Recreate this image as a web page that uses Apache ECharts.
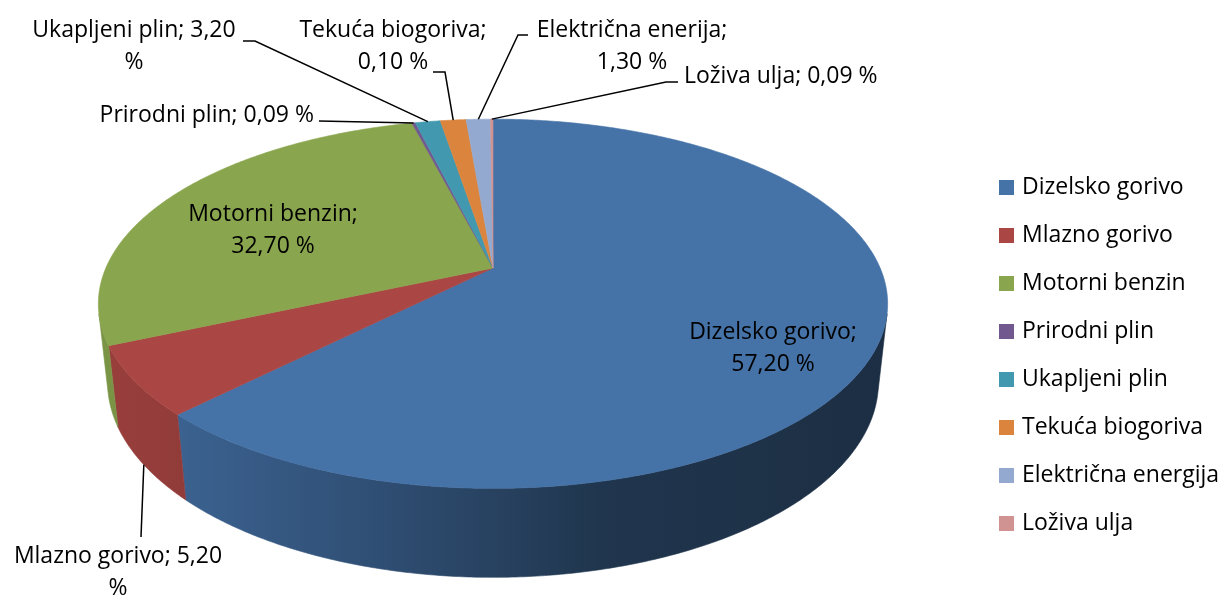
<!DOCTYPE html>
<html>
<head>
<meta charset="utf-8">
<script src="https://cdn.jsdelivr.net/npm/echarts@6/dist/echarts.min.js"></script>
<style>
  html, body { margin: 0; padding: 0; background: #fff; }
  #main { width: 1222px; height: 597px; }
</style>
</head>
<body>
<div id="main"></div>
<script>
// kategorije (redoslijed isječaka, u smjeru kazaljke od vrha)
const categories = ['Dizelsko gorivo', 'Mlazno gorivo', 'Motorni benzin', 'Prirodni plin', 'Ukapljeni plin', 'Tekuća biogoriva', 'Električna energija', 'Loživa ulja']
// veličina isječaka kako su nacrtani na slici (%)
const sliceValues = [62.4, 6.0, 27.6, 0.17, 1.24, 1.27, 1.2, 0.12]
// tekst oznaka kako je ispisan na grafikonu
const labelNames = ['Dizelsko gorivo', 'Mlazno gorivo', 'Motorni benzin', 'Prirodni plin', 'Ukapljeni plin', 'Tekuća biogoriva', 'Električna enerija', 'Loživa ulja']
const labelValues = ['57,20', '5,20', '32,70', '0,09', '3,20', '0,10', '1,30', '0,09']

const palette = ['#4572A7', '#AA4643', '#89A54E', '#71588F', '#4198AF', '#DB843D', '#93A9CF', '#D19392']
const FONT = '"Open Sans", Lato, sans-serif'
const FONT_SIZE = 23

// perspektivni prikaz kruga (3D pita)
const view = { cx: 493, cy: 268, f: 1776, R: 0.218, H: 0.05, sinA: 0.459, cosA: 0.888 }
const deg = Math.PI / 180
const wallFrom = Math.acos(-view.R / view.cosA) // vidljivi dio plašta
const wallTo = 2 * Math.PI - wallFrom

function project (theta, y) {
  let X = view.R * Math.sin(theta)
  let Z = view.R * Math.cos(theta)
  let depth = 1 - y * view.sinA + Z * view.cosA
  let up = y * view.cosA + Z * view.sinA
  return [view.cx + view.f * X / depth, view.cy - view.f * up / depth]
}

function arc (a0, a1, y) {
  let pts = []
  let n = Math.max(2, Math.ceil((a1 - a0) / (0.5 * deg)))
  for (let i = 0; i <= n; i++) pts.push(project(a0 + (a1 - a0) * i / n, y))
  return pts
}

function shade (hex, k) {
  let n = parseInt(hex.slice(1), 16)
  let r = Math.round(((n >> 16) & 255) * k)
  let g = Math.round(((n >> 8) & 255) * k)
  let b = Math.round((n & 255) * k)
  return 'rgb(' + r + ',' + g + ',' + b + ')'
}

// položaj oznaka i lomne točke linija
const labelLayout = [
  { x: 773, y: 348, align: 'center' },
  { x: 118, y: 572, align: 'center', at: 'bottom', leader: [[141, 537]] },
  { x: 273, y: 230, align: 'center' },
  { x: 314, y: 115, align: 'right', leader: [[319, 121]] },
  { x: 134, y: 46, align: 'center', leader: [[243, 41], [255, 41]] },
  { x: 393, y: 46, align: 'center', leader: [[433, 72], [445, 72]] },
  { x: 632, y: 46, align: 'center', leader: [[528, 35], [518, 35]] },
  { x: 684, y: 76, align: 'left', leader: [[678, 82], [666, 82]] }
]
const labelLines = [
  (i) => labelNames[i] + ';\n' + labelValues[i] + ' %',
  (i) => labelNames[i] + '; ' + labelValues[i] + '\n%',
  (i) => labelNames[i] + ';\n' + labelValues[i] + ' %',
  (i) => labelNames[i] + '; ' + labelValues[i] + ' %',
  (i) => labelNames[i] + '; ' + labelValues[i] + '\n%',
  (i) => labelNames[i] + ';\n' + labelValues[i] + ' %',
  (i) => labelNames[i] + ';\n' + labelValues[i] + ' %',
  (i) => labelNames[i] + '; ' + labelValues[i] + ' %'
]

const total = sliceValues.reduce((a, b) => a + b, 0)

function renderSlice (params, api) {
  let i = params.seriesIndex
  let before = 0
  for (let k = 0; k < i; k++) before += sliceValues[k]
  let a0 = before / total * 2 * Math.PI
  let a1 = (before + api.value(0)) / total * 2 * Math.PI
  let color = palette[i]
  let children = []

  // plašt
  let w0 = Math.max(a0, wallFrom)
  let w1 = Math.min(a1, wallTo)
  if (w1 > w0) {
    let top = arc(w0, w1, 0)
    let bottom = arc(w0, w1, -view.H).reverse()
    let fill = new echarts.graphic.LinearGradient(100, 0, 890, 0, [
      { offset: 0, color: shade(color, 0.9) },
      { offset: 0.1, color: shade(color, 0.86) },
      { offset: 0.38, color: shade(color, 0.67) },
      { offset: 0.63, color: shade(color, 0.47) },
      { offset: 1, color: shade(color, 0.4) }
    ], true)
    children.push({
      type: 'polygon',
      z2: 1,
      shape: { points: top.concat(bottom) },
      style: { fill: fill, stroke: fill, lineWidth: 0.6 }
    })
  }

  // gornja ploha
  children.push({
    type: 'polygon',
    z2: 10,
    shape: { points: [[view.cx, view.cy]].concat(arc(a0, a1, 0)) },
    style: { fill: color, stroke: color, lineWidth: 0.6, lineJoin: 'round' }
  })

  // oznaka
  let lay = labelLayout[i]
  let mid = (a0 + a1) / 2
  if (lay.leader) {
    let anchor = project(mid, lay.at === 'bottom' ? -view.H : 0)
    children.push({
      type: 'polyline',
      z2: 20,
      shape: { points: lay.leader.concat([anchor]) },
      style: { stroke: '#000', lineWidth: 1.5, fill: null }
    })
  }
  children.push({
    type: 'text',
    z2: 30,
    style: {
      text: labelLines[i](i),
      x: lay.x,
      y: lay.y,
      align: lay.align,
      verticalAlign: 'middle',
      font: FONT_SIZE + 'px ' + FONT,
      lineHeight: 32,
      fill: '#000'
    }
  })
  return { type: 'group', children: children }
}

let myChart = echarts.init(document.getElementById('main'))
myChart.setOption({
  animation: false,
  color: palette,
  legend: {
    data: categories,
    orient: 'vertical',
    left: 999,
    top: 176,
    padding: 0,
    itemWidth: 15,
    itemHeight: 15,
    itemGap: 25,
    icon: 'rect',
    selectedMode: false,
    textStyle: { fontFamily: FONT, fontSize: FONT_SIZE, lineHeight: 23, color: '#000', padding: [0, 0, 0, 3] }
  },
  series: categories.map((name, i) => ({
    type: 'custom',
    name: name,
    coordinateSystem: 'none',
    silent: true,
    itemStyle: { color: palette[i] },
    renderItem: renderSlice,
    data: [[sliceValues[i]]]
  }))
})
</script>
</body>
</html>
